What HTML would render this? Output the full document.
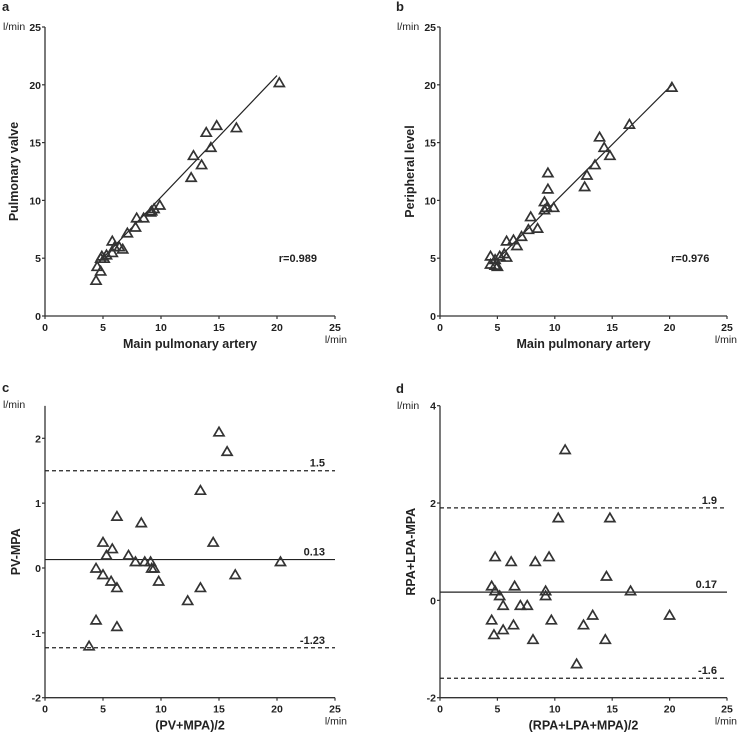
<!DOCTYPE html>
<html><head><meta charset="utf-8"><style>
html,body{margin:0;padding:0;background:#fff}
svg{display:block}
text{font-family:"Liberation Sans",sans-serif;font-weight:bold;fill:#222}
text.unit{font-weight:normal}
</style></head><body>
<svg id="fig" width="738" height="737" viewBox="0 0 738 737" xmlns="http://www.w3.org/2000/svg"></svg>
<script>
// Panel a: PV vs MPA
const aX=[20.2,16.5,14.8,13.9,14.3,12.8,13.5,12.6,9.9,9.4,9.2,9.1,8.5,7.9,7.8,7.1,6.7,6.4,5.8,5.8,6.0,5.3,5.1,4.9,4.8,4.5,4.8,4.4];
const aY=[20.2,16.3,16.5,15.9,14.6,13.9,13.1,12.0,9.6,9.3,9.1,9.0,8.5,8.5,7.7,7.2,5.8,6.0,6.5,5.5,6.0,5.3,5.0,5.2,5.0,4.3,3.9,3.1];
const aLine=[[4.6,4.6],[20.0,20.8]];
// Panel b: peripheral vs MPA
const bX=[20.2,16.5,13.9,14.3,14.8,13.5,12.8,12.6,9.4,9.4,9.1,9.1,9.3,9.9,7.9,7.7,8.5,7.1,6.4,6.7,5.8,5.8,5.6,5.2,4.4,4.4,4.8,5.0,4.8];
const bY=[19.8,16.6,15.5,14.6,13.9,13.1,12.2,11.2,12.4,11.0,9.9,9.2,9.4,9.4,8.6,7.5,7.6,6.9,6.6,6.1,6.5,5.1,5.4,5.2,5.2,4.5,4.4,4.3,4.9];
const bLine=[[5.0,4.9],[20.2,20.0]];
// Panel c: Bland-Altman PV-MPA
const cX=[15.0,15.7,13.4,6.2,8.3,5.0,14.5,5.8,5.3,7.2,7.8,8.6,9.1,20.3,4.4,9.2,9.4,5.0,16.4,5.7,9.8,6.2,13.4,12.3,4.4,6.2,3.8];
const cY=[2.1,1.8,1.2,0.8,0.7,0.4,0.4,0.3,0.2,0.2,0.1,0.1,0.1,0.1,0.0,0.0,0.0,-0.1,-0.1,-0.2,-0.2,-0.3,-0.3,-0.5,-0.8,-0.9,-1.2];
const cLimits=[1.5,0.13,-1.23];
// Panel d: Bland-Altman RPA+LPA-MPA
const dX=[10.9,10.3,14.8,4.8,9.5,6.2,8.3,14.5,4.5,6.5,4.8,9.2,16.6,5.2,9.2,5.5,7.0,7.6,4.5,9.7,13.3,20.0,6.4,12.5,5.5,4.7,8.1,14.4,11.9];
const dY=[3.1,1.7,1.7,0.9,0.9,0.8,0.8,0.5,0.3,0.3,0.2,0.2,0.2,0.1,0.1,-0.1,-0.1,-0.1,-0.4,-0.4,-0.3,-0.3,-0.5,-0.5,-0.6,-0.7,-0.8,-0.8,-1.3];
const dLimits=[1.9,0.17,-1.6];
const xTicks=[0,5,10,15,20,25];
const abYTicks=[0,5,10,15,20,25];
const cYTicks=[-2,-1,0,1,2];
const dYTicks=[-2,0,2,4];

const NS="http://www.w3.org/2000/svg";
const svg=document.getElementById('fig');
function el(tag,attrs,parent,txt){const e=document.createElementNS(NS,tag);for(const k in attrs)e.setAttribute(k,attrs[k]);if(txt!==undefined)e.textContent=txt;(parent||svg).appendChild(e);return e;}

function panel(cfg){
  const g=el('g',{});
  
  
  const sx=v=>cfg.x0+(v-0)*(cfg.x1-cfg.x0)/25;
  const sy=v=>cfg.yb+(v-cfg.ymin)*(cfg.yt-cfg.yb)/(cfg.ymax-cfg.ymin);
  const ytop=sy(cfg.yAxisTop);
  const ya=el('line',{x1:cfg.x0,y1:ytop,x2:cfg.x0,y2:cfg.yb,stroke:'#333','stroke-width':1.3},g);
  
  
  const xa=el('line',{x1:cfg.x0,y1:cfg.yb,x2:cfg.x1,y2:cfg.yb,stroke:'#333','stroke-width':1.3},g);
  
  
  xTicks.forEach(t=>{
    el('line',{x1:sx(t),y1:cfg.yb,x2:sx(t),y2:cfg.yb+3,stroke:'#333','stroke-width':1.2},g);
    const tl=el('text',{x:sx(t),y:cfg.yb+15,'text-anchor':'middle','font-size':10.5},g,String(t));
    
    
  });
  cfg.yTicks.forEach(t=>{
    el('line',{x1:cfg.x0-3,y1:sy(t),x2:cfg.x0,y2:sy(t),stroke:'#333','stroke-width':1.2},g);
    const tl=el('text',{x:cfg.x0-4,y:sy(t)+4,'text-anchor':'end','font-size':10.5},g,String(t));
    
    
  });
  const pl=el('text',{x:cfg.letterX,y:cfg.letterY,'font-size':13},g,cfg.letter);
  
  
  const yu=el('text',{x:cfg.yUnitX,y:cfg.yUnitY,'font-size':10.5,'class':'unit'},g,'l/min');
  
  
  const xu=el('text',{x:Math.min(cfg.x1+12,737),y:cfg.yb+27,'text-anchor':'end','font-size':10.5,'class':'unit'},g,'l/min');
  
  
  const xt=el('text',{x:(cfg.x0+cfg.x1)/2,y:cfg.yb+32,'text-anchor':'middle','font-size':12.5},g,cfg.xTitle);
  
  
  const yc=(ytop+cfg.yb)/2;
  const ytl=el('text',{x:cfg.yTitleX,y:yc,'text-anchor':'middle','font-size':12.5,transform:`rotate(-90 ${cfg.yTitleX} ${yc})`},g,cfg.yTitle);
  
  
  if(cfg.line){
    const rl=el('line',{x1:sx(cfg.line[0][0]),y1:sy(cfg.line[0][1]),x2:sx(cfg.line[1][0]),y2:sy(cfg.line[1][1]),stroke:'#222','stroke-width':1.2},g);
    
    
    const rt=el('text',{x:sx(21.8),y:sy(cfg.rY)+4,'text-anchor':'middle','font-size':11},g,cfg.rText);
    
    
  }
  if(cfg.limits){
    cfg.limits.forEach((v,i)=>{
      const ln=el('line',{x1:cfg.x0,y1:sy(v),x2:cfg.x1,y2:sy(v),stroke:'#222','stroke-width':1.2,'stroke-dasharray':i===1?'none':'4,3'},g);
      
      
      const lt=el('text',{x:cfg.x1-10,y:sy(v)-4,'text-anchor':'end','font-size':11},g,String(v));
      
      
    });
  }
  cfg.xs.forEach((xv,i)=>{
    const cx=sx(xv),cy=sy(cfg.ys[i]);
    const p=el('polygon',{points:`${cx},${cy-4.5} ${cx+5},${cy+4} ${cx-5},${cy+4}`,fill:'none',stroke:'#333','stroke-width':1.7},g);
    
    
  });
}
panel({name:'panel-a',letter:'a',letterX:2,letterY:11,x0:45,x1:335,yb:316,yt:27,ymin:0,ymax:25,yAxisTop:25,yTicks:abYTicks,
  yUnitX:3,yUnitY:30,yTitleX:18,xTitle:'Main pulmonary artery',yTitle:'Pulmonary valve',xs:aX,ys:aY,line:aLine,rText:'r=0.989',rY:5.0});
panel({name:'panel-b',letter:'b',letterX:396,letterY:11,x0:440,x1:727,yb:316,yt:27,ymin:0,ymax:25,yAxisTop:25,yTicks:abYTicks,
  yUnitX:397,yUnitY:30,yTitleX:414,xTitle:'Main pulmonary artery',yTitle:'Peripheral level',xs:bX,ys:bY,line:bLine,rText:'r=0.976',rY:5.0});
panel({name:'panel-c',letter:'c',letterX:2,letterY:392,x0:45,x1:335,yb:697.7,yt:438.3,ymin:-2,ymax:2,yAxisTop:2.5,yTicks:cYTicks,
  yUnitX:3,yUnitY:408,yTitleX:20,xTitle:'(PV+MPA)/2',yTitle:'PV-MPA',xs:cX,ys:cY,limits:cLimits});
panel({name:'panel-d',letter:'d',letterX:396,letterY:393,x0:440,x1:727,yb:697.7,yt:405.7,ymin:-2,ymax:4,yAxisTop:4,yTicks:dYTicks,
  yUnitX:397,yUnitY:409,yTitleX:415,xTitle:'(RPA+LPA+MPA)/2',yTitle:'RPA+LPA-MPA',xs:dX,ys:dY,limits:dLimits});
</script>
</body></html>
